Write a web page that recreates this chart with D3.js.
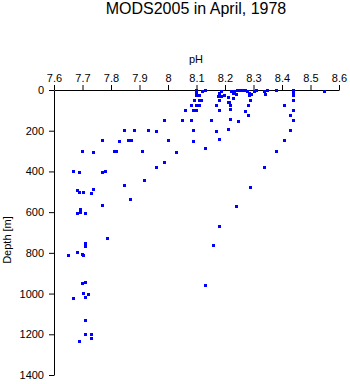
<!DOCTYPE html>
<html>
<head>
<meta charset="utf-8">
<script src="https://cdn.jsdelivr.net/npm/d3@7"></script>
<style>
  body { margin: 0; background: #fff; }
  svg { display: block; font-family: "Liberation Sans", Arial, sans-serif; }
</style>
</head>
<body>
<div id="chart"></div>
<script>
// Observations (pH, depth in m)
const phValues = [
  7.669, 7.691, 7.681, 7.691, 7.702, 7.731, 7.740, 7.681, 7.693, 7.693, 7.711,
  7.701, 7.740, 7.771, 7.770, 7.780, 7.771, 7.789, 7.811, 7.821, 7.831, 7.849,
  7.860, 7.872, 7.849, 7.870, 7.881, 7.910, 7.919, 7.931, 7.961, 7.961, 7.989,
  7.989, 8.000, 8.029, 7.711, 7.711, 7.681, 7.700, 7.702, 7.651, 7.700, 7.711,
  7.702, 7.720, 7.670, 7.711, 7.711, 7.711, 7.731, 7.731, 7.691,
  8.100, 8.100, 8.100, 8.109, 8.121, 8.130, 8.092, 8.109, 8.119, 8.081, 8.100,
  8.109, 8.060, 8.091, 8.100, 8.050, 8.081, 8.151, 8.090, 8.169, 8.090, 8.179,
  8.130, 8.180, 8.188, 8.176, 8.188, 8.200, 8.211, 8.179, 8.169, 8.179, 8.211,
  8.221, 8.221, 8.220, 8.216, 8.211, 8.229, 8.229, 8.239, 8.222, 8.234, 8.244,
  8.252, 8.263, 8.271, 8.249, 8.271, 8.281, 8.281, 8.280, 8.287, 8.285, 8.294,
  8.290, 8.302, 8.310, 8.340, 8.341, 8.350, 8.380, 8.289, 8.340, 8.379, 8.409,
  8.409, 8.239, 8.179, 8.439, 8.439, 8.439, 8.439, 8.439, 8.429, 8.439, 8.429,
  8.549, 8.160, 8.130
]
const depthValues = [
  398, 405, 496, 505, 503, 506, 491, 609, 588, 603, 608,
  300, 305, 250, 403, 398, 565, 730, 300, 300, 255, 201,
  249, 249, 471, 540, 197, 300, 447, 199, 206, 380, 149,
  356, 250, 305, 752, 770, 796, 806, 811, 814, 951, 947,
  999, 1007, 1024, 1019, 1132, 1202, 1202, 1223, 1233,
  3, 13, 25, 27, 8, 0, 51, 51, 51, 76, 76,
  76, 102, 102, 102, 149, 152, 149, 201, 205, 255, 241,
  285, 15, 8, 31, 31, 25, 39, 51, 76, 100, 192,
  146, 98, 75, 59, 62, 40, 15, 23, 8, 5, 2,
  0, 0, 1, 154, 107, 77, 127, 7, 15, 28, 23,
  51, 6, 3, 8, 21, 1, 0, 477, 383, 300, 250,
  75, 572, 670, 3, 16, 28, 50, 101, 126, 152, 199,
  5, 766, 961
]

const phTicks = [7.6, 7.7, 7.8, 7.9, 8.0, 8.1, 8.2, 8.3, 8.4, 8.5, 8.6]
const depthTicks = [0, 200, 400, 600, 800, 1000, 1200, 1400]

const title = "MODS2005 in April, 1978"
const xLabel = "pH"
const yLabel = "Depth [m]"

const W = 350, H = 384
const margin = { top: 90, left: 54 }
const width = 285, height = 285

const svg = d3.select("#chart").append("svg")
  .attr("width", W)
  .attr("height", H)

svg.append("text")
  .attr("x", 196)
  .attr("y", 14)
  .attr("text-anchor", "middle")
  .style("font-size", "16px")
  .text(title)

const g = svg.append("g")
  .attr("transform", `translate(${margin.left},${margin.top})`)

const x = d3.scaleLinear().domain([7.6, 8.6]).range([0, width])
const y = d3.scaleLinear().domain([0, 1400]).range([0, height])

// Top axis (pH)
const xAxis = g.append("g")
  .call(d3.axisTop(x)
    .tickValues(phTicks)
    .tickSize(5)
    .tickSizeOuter(0)
    .tickPadding(3)
    .tickFormat(d => String(+d.toFixed(1))))
xAxis.selectAll("text").style("font-size", "11px").style("fill", "#000")
xAxis.selectAll("line, path").attr("stroke", "#000")

// Left axis (depth)
const yAxis = g.append("g")
  .call(d3.axisLeft(y)
    .tickValues(depthTicks)
    .tickSize(5)
    .tickSizeOuter(0)
    .tickPadding(5)
    .tickFormat(d3.format("d")))
yAxis.selectAll("text").style("font-size", "11px").style("fill", "#000")
yAxis.selectAll("line, path").attr("stroke", "#000")

svg.append("text")
  .attr("x", 196)
  .attr("y", 63)
  .attr("text-anchor", "middle")
  .style("font-size", "11px")
  .text(xLabel)

svg.append("text")
  .attr("transform", "translate(11,240) rotate(-90)")
  .attr("text-anchor", "middle")
  .style("font-size", "11px")
  .text(yLabel)

// Points
const points = phValues.map((p, i) => ({ ph: p, depth: depthValues[i] }))

g.selectAll(".pt")
  .data(points)
  .enter()
  .append("rect")
  .attr("class", "pt")
  .attr("x", d => Math.round(x(d.ph) - 1.5))
  .attr("y", d => Math.round(y(d.depth) - 1.5))
  .attr("width", 3)
  .attr("height", 3)
  .attr("shape-rendering", "crispEdges")
  .attr("fill", "#0000ff")
</script>
</body>
</html>
